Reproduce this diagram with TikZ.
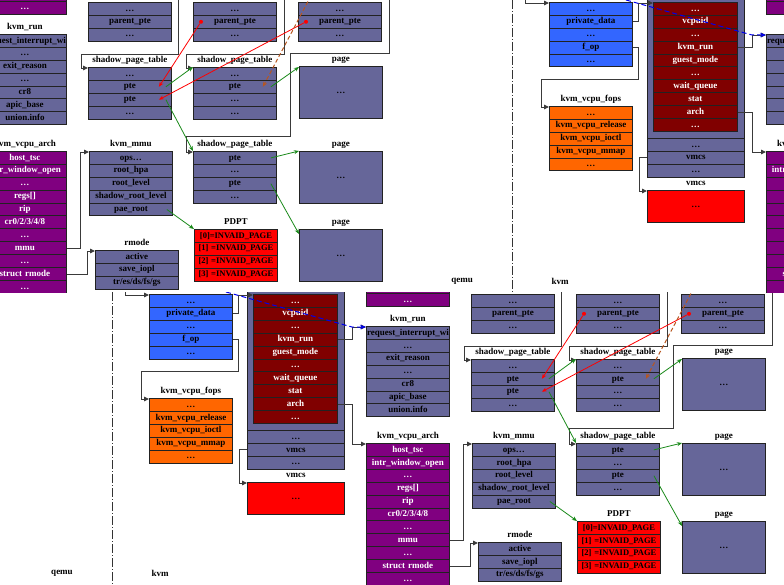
\documentclass[tikz,border=0pt]{standalone}
\usepackage{fontspec}
\setmainfont{Liberation Serif}
\usetikzlibrary{shapes.multipart, arrows.meta, calc}
\definecolor{kvmgray}{HTML}{666699}
\definecolor{kvmblue}{HTML}{3366FF}
\definecolor{kvmorange}{HTML}{FF6600}
\definecolor{kvmmaroon}{HTML}{800000}
\definecolor{kvmred}{HTML}{FF0000}
\definecolor{kvmpurple}{HTML}{800080}
\definecolor{kvmgreen}{HTML}{1A8A1A}
\definecolor{kvmbrown}{HTML}{B8561E}
\definecolor{kvmdash}{HTML}{0000EE}
\definecolor{boxline}{HTML}{222222}
\definecolor{connline}{HTML}{3A3A3A}

\newcommand{\kvmfont}{\fontsize{9}{9.5}\selectfont\bfseries}
% every row of a struct is 13pt high
\newcommand{\rowstrut}{\rule[-3.8pt]{0pt}{12pt}}
\newcommand{\fpart}[1]{\nodepart{#1}\rowstrut}

\tikzset{
  struct/.style={rectangle split, rectangle split parts=#1, draw=boxline, line width=0.9pt,
    inner xsep=2pt, inner ysep=0pt, text width=79pt, align=center, font=\kvmfont, anchor=north west},
  structtitle/.style={font=\kvmfont, inner sep=0pt, text height=6.5pt, text depth=2.5pt, anchor=south},
  pagebox/.style={draw=boxline, line width=0.9pt, fill=kvmgray, minimum width=83pt,
    minimum height=52pt, inner sep=0pt, font=\kvmfont, anchor=north west},
  conn/.style={draw=connline, line width=0.9pt, -{Triangle[length=5pt,width=4.5pt]}},
  greenarrow/.style={draw=kvmgreen, line width=0.8pt, -{Stealth[length=5pt,width=4pt]}},
  redarrow/.style={draw=kvmred, line width=0.8pt, -{Stealth[length=5pt,width=4pt]}},
  brownarrow/.style={draw=kvmbrown, line width=1pt, dash pattern=on 4pt off 2.5pt, -{Stealth[length=5pt,width=4pt]}},
  bluearrow/.style={draw=kvmdash, line width=1pt, dash pattern=on 5pt off 3pt, -{Stealth[length=6pt,width=4.5pt]}},
  reddot/.style={circle, fill=kvmred, inner sep=0pt, minimum size=4pt},
  splitline/.style={draw=black!80, line width=1pt, dash pattern=on 9pt off 2pt on 1pt off 2pt},
  sidelbl/.style={font=\kvmfont, inner sep=0pt},
  kvmdiagram/.pic={
    % === qemu / kvm boundary ===
    \draw[splitline] (112,292) -- (112,585);
    \node[sidelbl] (qemulbl) at (62,573) {qemu};
    \node[sidelbl] (kvmlbl) at (160,573) {kvm};

    % === struct file ===
    \node[struct=5, fill=kvmblue] (file) at (149,294)
      {\rowstrut\dots\fpart{two}private\_data\fpart{three}\dots\fpart{four}f\_op\fpart{five}\dots};
    \coordinate (fdin) at (125,284);
    \draw[conn] (fdin) |- ([yshift=-1pt]file.north west);

    % === kvm_vcpu_fops ===
    \node[struct=5, fill=kvmorange] (fops) at (149,398)
      {\rowstrut\dots\fpart{two}kvm\_vcpu\_release\fpart{three}kvm\_vcpu\_ioctl\fpart{four}kvm\_vcpu\_mmap\fpart{five}\dots};
    \node[structtitle] (fopstitle) at ([yshift=2pt]fops.north) {kvm\_vcpu\_fops};

    % === kvm_vcpu ===
    \node[fill=kvmgray, draw=boxline, line width=0.9pt, minimum width=97pt, minimum height=139pt,
      inner sep=0pt, anchor=north west] (vcpubg) at (247,291) {};
    \node[struct=3, fill=kvmgray, text width=93pt] (vcpurows) at (247,430)
      {\rowstrut\dots\fpart{two}vmcs\fpart{three}\dots};
    \node[struct=10, fill=kvmmaroon, text=white, text width=80pt] (vcpu) at (253,294)
      {\rowstrut\dots\fpart{two}vcpuid\fpart{three}\dots\fpart{four}kvm\_run\fpart{five}guest\_mode
       \fpart{six}\dots\fpart{seven}wait\_queue\fpart{eight}stat\fpart{nine}arch\fpart{ten}\dots};

    % === vmcs ===
    \node[pagebox, fill=kvmred, minimum width=97pt, minimum height=32pt] (vmcs) at (247,482) {\dots};
    \node[structtitle] (vmcstitle) at ([yshift=2pt]vmcs.north) {vmcs};

    % === kvm_run ===
    \node[struct=7, fill=kvmgray] (kvmrun) at (366,326)
      {\rowstrut\makebox[79pt]{request\_interrupt\_wi}\fpart{two}\dots\fpart{three}exit\_reason\fpart{four}\dots
       \fpart{five}cr8\fpart{six}apic\_base\fpart{seven}union.info};
    \node[structtitle] (kvmruntitle) at ([yshift=2pt]kvmrun.north) {kvm\_run};

    % === kvm_vcpu_arch ===
    \node[struct=12, fill=kvmpurple, text=white] (arch) at (366,443)
      {\rowstrut host\_tsc\fpart{two}intr\_window\_open\fpart{three}\dots\fpart{four}regs[]\fpart{five}rip
       \fpart{six}cr0/2/3/4/8\fpart{seven}\dots\fpart{eight}mmu\fpart{nine}\dots
       \fpart{ten}struct~rmode\fpart{eleven}\dots\fpart{twelve}\dots};
    \node[structtitle] (archtitle) at ([yshift=2pt]arch.north) {kvm\_vcpu\_arch};

    % === kvm_mmu, rmode, PDPT ===
    \node[struct=5, fill=kvmgray] (mmu) at (472,443)
      {\rowstrut ops\dots\fpart{two}root\_hpa\fpart{three}root\_level\fpart{four}shadow\_root\_level\fpart{five}pae\_root};
    \node[structtitle] (mmutitle) at ([yshift=2pt]mmu.north) {kvm\_mmu};
    \node[struct=3, fill=kvmgray] (rmode) at (478,542)
      {\rowstrut active\fpart{two}save\_iopl\fpart{three}tr/es/ds/fs/gs};
    \node[structtitle] (rmodetitle) at ([yshift=2pt]rmode.north) {rmode};
    \node[struct=4, fill=kvmred, font=\fontsize{8.5}{9}\selectfont\bfseries] (pdpt) at (577,521)
      {\rowstrut\makebox[79pt]{[0]=INVAID\_PAGE}\fpart{two}\makebox[79pt]{[1] =INVAID\_PAGE}%
       \fpart{three}\makebox[79pt]{[2] =INVAID\_PAGE}\fpart{four}\makebox[79pt]{[3] =INVAID\_PAGE}};
    \node[structtitle] (pdpttitle) at ([yshift=2pt]pdpt.north) {PDPT};

    % === parent_pte ===
    \node[struct=3, fill=kvmgray] (ppa) at (471,294) {\rowstrut\dots\fpart{two}parent\_pte\fpart{three}\dots};
    \node[struct=3, fill=kvmgray] (ppb) at (576,294) {\rowstrut\dots\fpart{two}parent\_pte\fpart{three}\dots};
    \node[struct=3, fill=kvmgray] (ppc) at (681,294) {\rowstrut\dots\fpart{two}parent\_pte\fpart{three}\dots};
    \node[reddot] (ppbdot) at ([xshift=8pt]ppb.two west) {};
    \node[reddot] (ppcdot) at ([xshift=8pt]ppc.two west) {};

    % === shadow_page_table ===
    \node[struct=4, fill=kvmgray] (spta) at (471,359) {\rowstrut\dots\fpart{two}pte\fpart{three}pte\fpart{four}\dots};
    \node[structtitle] (sptatitle) at ([yshift=2pt]spta.north) {shadow\_page\_table};
    \node[struct=4, fill=kvmgray] (sptb) at (576,359) {\rowstrut\dots\fpart{two}pte\fpart{three}\dots\fpart{four}\dots};
    \node[structtitle] (sptbtitle) at ([yshift=2pt]sptb.north) {shadow\_page\_table};
    \node[struct=4, fill=kvmgray] (sptc) at (576,443) {\rowstrut pte\fpart{two}\dots\fpart{three}pte\fpart{four}\dots};
    \node[structtitle] (sptctitle) at ([yshift=2pt]sptc.north) {shadow\_page\_table};

    % === page ===
    \node[pagebox] (pagea) at (682,358) {\dots};
    \node[structtitle] (pageatitle) at ([yshift=2pt]pagea.north) {page};
    \node[pagebox] (pageb) at (682,443) {\dots};
    \node[structtitle] (pagebtitle) at ([yshift=2pt]pageb.north) {page};
    \node[pagebox] (pagec) at (682,521) {\dots};
    \node[structtitle] (pagectitle) at ([yshift=2pt]pagec.north) {page};

    % === pointers ===
    \draw[conn] (file.two east) -- ++(6,0) |- ([yshift=-1pt]vcpu.north west);
    \draw[conn] (file.four east) -- ++(6,0) -- ++(0,32) -| ([xshift=-8pt,yshift=-1pt]fops.north west) -- ([yshift=-1pt]fops.north west);
    \draw[conn] (vcpu.four east) -- ++(15,0) |- ([yshift=-1pt]kvmrun.north west);
    \draw[conn] (vcpu.nine east) -- ++(15,0) |- ([yshift=-1pt]arch.north west);
    \draw[conn] (vcpurows.two west) -- ++(-8,0) |- ([yshift=-1pt]vmcs.north west);
    \draw[conn] (arch.eight east) -- ++(14,0) |- ([yshift=-1pt]mmu.north west);
    \draw[conn] (arch.ten east) -- ++(21,0) |- ([yshift=-1pt]rmode.north west);
    \coordinate (sptain) at (561,280);
    \draw[conn] (sptain) |- ([shift={(-7,-13)}]spta.north west) |- ([yshift=-1pt]spta.north west);
    \coordinate (sptbin) at (667,280);
    \draw[conn] (sptbin) |- ([shift={(-7,-13)}]sptb.north west) |- ([yshift=-1pt]sptb.north west);
    \coordinate (sptcin) at (772,280);
    \draw[conn] (sptcin) |- ([shift={(-9,-13)}]pagea.north west) |- ([shift={(-7,-15)}]sptc.north west) |- ([yshift=-1pt]sptc.north west);

    \coordinate (bluein) at (226,292);
    \draw[bluearrow] (bluein) -- ([xshift=-14pt,yshift=-1pt]kvmrun.north west) -- ([yshift=-1pt]kvmrun.north west);

    \draw[greenarrow] ([xshift=-6pt]spta.two east) -- (sptb.north west);
    \draw[greenarrow] ([xshift=-6pt]spta.three east) -- (sptc.north west);
    \draw[greenarrow] ([xshift=-6pt]sptb.two east) -- ([yshift=-1pt]pagea.north west);
    \draw[greenarrow] ([xshift=-6pt]sptc.text east) -- (pageb.north west);
    \draw[greenarrow] ([xshift=-6pt]sptc.three east) -- ([yshift=-5pt]pagec.north west);
    \draw[greenarrow] ([xshift=-6pt]mmu.five east) -- (pdpt.north west);

    \draw[redarrow] (ppbdot) -- ([xshift=-13pt]spta.two east);
    \draw[redarrow] (ppcdot) -- ([xshift=-13pt]spta.three east);
    \coordinate (brownin) at (697,282);
    \draw[brownarrow] (brownin) -- ([xshift=-14pt]sptb.two east);
  }
}

\begin{document}
\begin{tikzpicture}[x=1pt, y=-1pt]
\useasboundingbox (0,0) rectangle (784,585);
\fill[white] (0,0) rectangle (784,585);

% === lower band ===
\begin{scope}
  \clip (0,292) rectangle (784,585);
  \pic (low) at (0,0) {kvmdiagram};
  \pic (loww) at (0,-292) {kvmdiagram};
\end{scope}

% === upper band ===
\begin{scope}
  \clip (0,0) rectangle (784,292);
  \pic (upl) at (-383,-292) {kvmdiagram};
  \pic (upr) at (400,-292) {kvmdiagram};
  \pic (uplw) at (-383,-584) {kvmdiagram};
  \pic (uprw) at (400,-584) {kvmdiagram};
\end{scope}
\end{tikzpicture}
\end{document}
